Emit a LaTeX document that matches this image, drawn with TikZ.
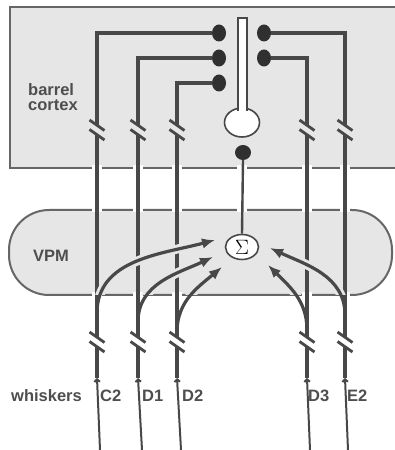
\documentclass[tikz,border=0pt]{standalone}
\usepackage{fontspec}
\newfontfamily\labfont{Liberation Sans}
\usetikzlibrary{arrows.meta,shapes.geometric}
\definecolor{ln}{HTML}{484848}
\definecolor{bx}{HTML}{E6E6E6}
\definecolor{bo}{HTML}{666666}
\definecolor{dt}{HTML}{303030}
\definecolor{tx}{HTML}{4E4E4E}
\begin{document}
\begin{tikzpicture}[x=1pt,y=1pt,
  box/.style={fill=bx, draw=bo, line width=2pt},
  wire/.style={ln, line width=3.3pt},
  gapw/.style={white, line width=10pt},
  dot/.style={ellipse, fill=dt, inner sep=0pt, minimum width=14pt, minimum height=17pt},
  lab/.style={font=\labfont\bfseries\fontsize{16.5}{16.5}\selectfont, text=tx, inner sep=0pt},
  arr/.style={ln, line width=3.2pt, -{Latex[length=13pt,width=10.5pt]}},
  halo/.style={bx, line width=9pt},
  whisk/.style={ln, line width=2pt, -{Straight Barb[length=2.5pt,width=5.5pt]}},
  brk/.style={ln, line width=2.8pt}
]
\useasboundingbox (0,0) rectangle (395,450);
\clip (0,0) rectangle (395,450);
% boxes
\path[box] (10,282) rectangle (410,443);
\path[box, rounded corners=40pt] (9,155) rectangle (392,240);
% gaps in box borders
\foreach \x in {97,138,177,307,345}{
  \draw[gapw] (\x,279.5) -- (\x,284.5);
  \draw[gapw] (\x,237.5) -- (\x,242.5);
  \draw[gapw] (\x,152.5) -- (\x,157.5);
}
\draw[gapw] (242,279.5) -- (242,284.5);
\draw[gapw] (242,237.5) -- (242,242.5);
% synaptic dots
\node[dot] (dC2) at (219,417) {};
\node[dot] (dD1) at (219,392) {};
\node[dot] (dD2) at (219,367) {};
\node[dot] (dE2) at (264,417) {};
\node[dot] (dD3) at (264,392) {};
\node[dot, minimum width=16pt, minimum height=15pt] (syn) at (243,297.5) {};
% sum node
\node[ellipse, draw=ln, fill=white, line width=1.6pt, minimum width=33pt, minimum height=25pt, inner sep=0pt] (sum) at (242,203) {\fontsize{21}{21}\selectfont$\Sigma$};
% neuron
\node[ellipse, draw=ln, fill=white, line width=1.6pt, minimum width=35pt, minimum height=29pt, inner sep=0pt] (soma) at (242,327.5) {};
\draw[ln, line width=1.6pt, fill=white] (238,340) rectangle (247,432);
\fill[white] (238.9,335) rectangle (246.1,341);
% thalamocortical wires
\draw[wire] (dC2.west) -| (97,324.5);
\draw[wire] (dD1.west) -| (138,324.5);
\draw[wire] (dD2.west) -| (177,324.5);
\draw[wire] (dD3.east) -| (307,324.5);
\draw[wire] (dE2.east) -| (345,324.5);
\foreach \x in {97,138,177,307,345}{
  \coordinate (w\x) at (\x,72);
  \draw[wire] (\x,315.5) -- (\x,112.5);
  \draw[wire] (\x,103.5) -- (w\x);
  \foreach \yb in {320,108}{
    \draw[brk] (\x-7.5,\yb+10) -- (\x+7.5,\yb-0.5);
    \draw[brk] (\x-7.5,\yb+0.5) -- (\x+7.5,\yb-10);
  }
}
\draw[ln, line width=2.4pt] (syn.south) -- (sum.north);
% curved projections
\coordinate (sC2) at (97,137);  \coordinate (tC2) at (215,210);
\coordinate (sD1) at (138,128); \coordinate (tD1) at (213,193);
\coordinate (sD2) at (177,118); \coordinate (tD2) at (222,183);
\coordinate (sD3) at (307,120); \coordinate (tD3) at (268,185);
\coordinate (sE2) at (345,135); \coordinate (tE2) at (270,202);
\begin{scope}
  \clip[rounded corners=40pt] (9,155) rectangle (392,240);
  \draw[halo] (sC2) to[out=90,in=195] (tC2);
  \draw[halo] (sD1) to[out=90,in=205] (tD1);
  \draw[halo] (sD2) to[out=90,in=220] (tD2);
  \draw[halo] (sD3) to[out=90,in=315] (tD3);
  \draw[halo] (sE2) to[out=90,in=335] (tE2);
\end{scope}
\draw[arr] (sC2) to[out=90,in=195] (tC2);
\draw[arr] (sD1) to[out=90,in=205] (tD1);
\draw[arr] (sD2) to[out=90,in=220] (tD2);
\draw[arr] (sD3) to[out=90,in=315] (tD3);
\draw[arr] (sE2) to[out=90,in=335] (tE2);
% whiskers
\coordinate (bC2) at (100,0);
\coordinate (bD1) at (142,0);
\coordinate (bD2) at (181,0);
\coordinate (bD3) at (310,0);
\coordinate (bE2) at (348,0);
\draw[whisk] (bC2) -- (w97);
\draw[whisk] (bD1) -- (w138);
\draw[whisk] (bD2) -- (w177);
\draw[whisk] (bD3) -- (w307);
\draw[whisk] (bE2) -- (w345);
% labels
\node[lab, anchor=base west] (lb1) at (28,354) {barrel};
\node[lab, anchor=base west] (lb2) at (28,339) {cortex};
\node[lab, anchor=base west] (lvpm) at (33,188) {VPM};
\node[lab, anchor=base west] (lwh) at (11,48) {whiskers};
\node[lab, anchor=base west] (lC2) at (100,48) {C2};
\node[lab, anchor=base west] (lD1) at (142,48) {D1};
\node[lab, anchor=base west] (lD2) at (182,48) {D2};
\node[lab, anchor=base west] (lD3) at (308,48) {D3};
\node[lab, anchor=base west] (lE2) at (347,48) {E2};
\end{tikzpicture}
\end{document}
